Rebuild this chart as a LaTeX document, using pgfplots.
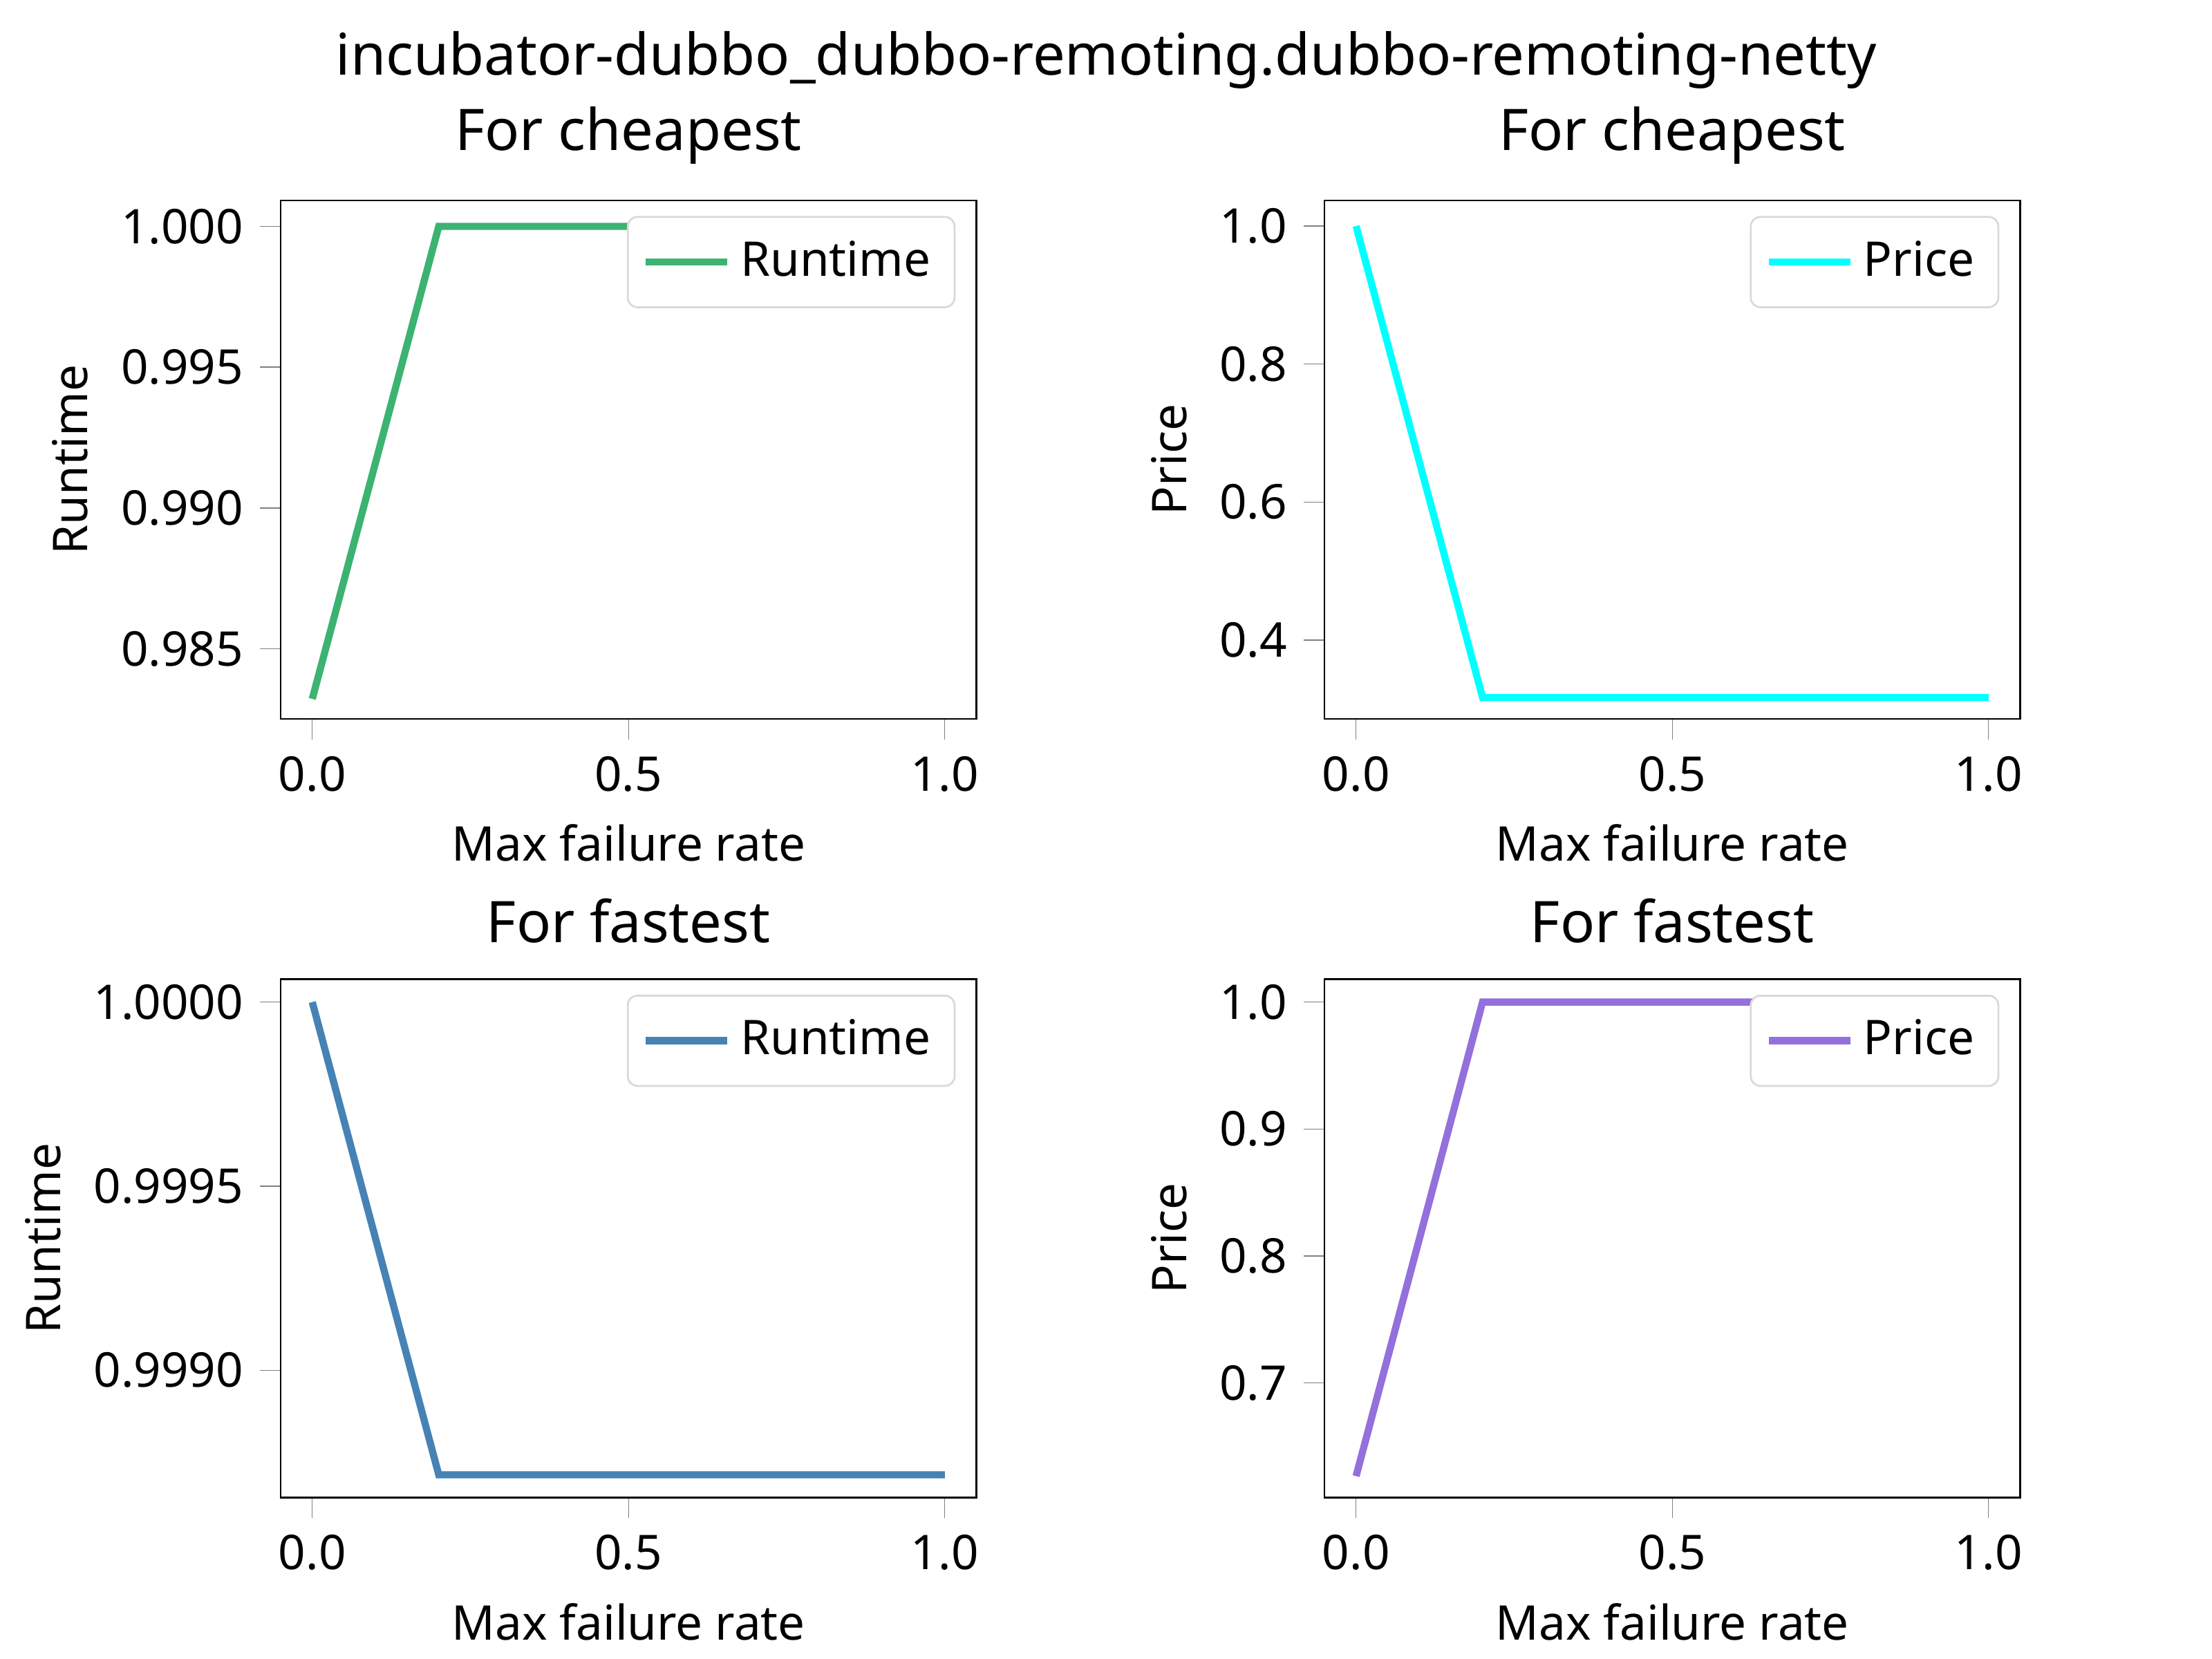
\documentclass[border=0pt]{standalone}
\usepackage{fontspec}
\setmainfont{Noto Sans}
\usepackage{pgfplots}
\pgfplotsset{compat=1.18}
\definecolor{c1}{RGB}{60,179,113}
\definecolor{c2}{RGB}{0,255,255}
\definecolor{c3}{RGB}{70,130,180}
\definecolor{c4}{RGB}{147,112,219}
\pgfplotsset{
  my/.style={scale only axis, width=2.013in, height=1.5in, anchor=south west,
    xmin=-0.05, xmax=1.05, xtick={0,0.5,1},
    xticklabel style={/pgf/number format/.cd,fixed,fixed zerofill,precision=1},
    tick align=outside, xtick pos=bottom, ytick pos=left,
    /pgf/number format/assume math mode=true,
    tick label style={font=\fontsize{10}{12}\selectfont},
    label style={font=\fontsize{10}{12}\selectfont},
    title style={font=\fontsize{12}{14}\selectfont, yshift=-2pt},
    xlabel={Max failure rate},
    legend pos=north east,
    legend style={font=\fontsize{10}{12}\selectfont, draw=black!15, rounded corners=2pt, inner sep=3pt},
    legend cell align=left,
    scaled y ticks=false,
  }
}
\begin{document}
\begin{tikzpicture}
\path (0,0) rectangle (6.4in,4.8in);
\node[font=\fontsize{12}{14}\selectfont] at (3.2in,4.626in) {incubator-dubbo\_dubbo-remoting.dubbo-remoting-netty};
\begin{axis}[my, at={(0.812in,2.72in)}, title={For cheapest}, ylabel={Runtime},
  ymin=0.98251, ymax=1.00092, ytick={0.985,0.99,0.995,1.0},
  yticklabel style={/pgf/number format/.cd,fixed,fixed zerofill,precision=3}]
\addplot[c1, line width=1.5pt] coordinates {(0,0.98322)(0.2,1)(0.4,1)(0.6,1)(0.8,1)(1.0,1)};
\addlegendentry{Runtime}
\end{axis}
\begin{axis}[my, at={(3.832in,2.72in)}, title={For cheapest}, ylabel={Price},
  ymin=0.286, ymax=1.037, ytick={0.4,0.6,0.8,1.0},
  yticklabel style={/pgf/number format/.cd,fixed,fixed zerofill,precision=1}]
\addplot[c2, line width=1.5pt] coordinates {(0,1)(0.2,0.317)(0.4,0.317)(0.6,0.317)(0.8,0.317)(1.0,0.317)};
\addlegendentry{Price}
\end{axis}
\begin{axis}[my, at={(0.812in,0.467in)}, title={For fastest}, ylabel={Runtime},
  ymin=0.998654, ymax=1.0000623, ytick={0.999,0.9995,1.0},
  yticklabel style={/pgf/number format/.cd,fixed,fixed zerofill,precision=4}]
\addplot[c3, line width=1.5pt] coordinates {(0,1)(0.2,0.998716)(0.4,0.998716)(0.6,0.998716)(0.8,0.998716)(1.0,0.998716)};
\addlegendentry{Runtime}
\end{axis}
\begin{axis}[my, at={(3.832in,0.467in)}, title={For fastest}, ylabel={Price},
  ymin=0.6098, ymax=1.018, ytick={0.7,0.8,0.9,1.0},
  yticklabel style={/pgf/number format/.cd,fixed,fixed zerofill,precision=1}]
\addplot[c4, line width=1.5pt] coordinates {(0,0.6267)(0.2,1)(0.4,1)(0.6,1)(0.8,1)(1.0,1)};
\addlegendentry{Price}
\end{axis}
\end{tikzpicture}
\end{document}
